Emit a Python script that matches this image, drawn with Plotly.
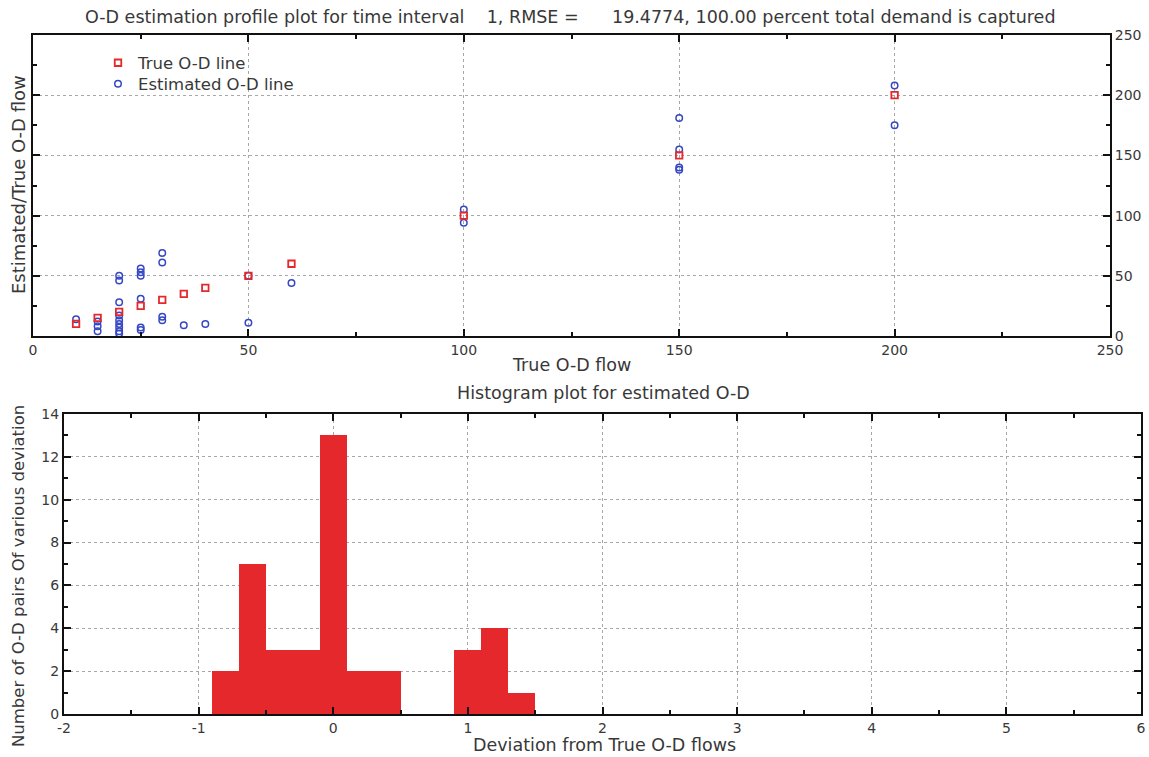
import plotly.graph_objects as go

W, H = 1149, 757

# O-D pairs: true flow and estimated flow
true_flow = [10, 15, 20, 25, 30, 35, 40, 50, 60, 100, 150, 200]
true_line = [10, 15, 20, 25, 30, 35, 40, 50, 60, 100, 150, 200]

est_x = [10,
         15, 15, 15,
         20, 20, 20, 20, 20, 20, 20, 20, 20,
         25, 25, 25, 25, 25, 25,
         30, 30, 30, 30,
         35, 40,
         50, 50,
         60,
         100, 100,
         150, 150, 150, 150,
         200, 200]
est_y = [14,
         12, 8, 4,
         50, 46, 28, 17, 13, 10, 7, 4, 2,
         56, 53, 50, 31, 7, 5,
         69, 61, 16, 13,
         9, 10,
         50, 11,
         44,
         105, 94,
         181, 155, 140, 138,
         208, 175]

# Histogram of deviations (bin width 0.2)
dev_centers = [-0.8, -0.6, -0.4, -0.2, 0.0, 0.2, 0.4, 0.6, 0.8, 1.0, 1.2, 1.4]
dev_counts = [2, 7, 3, 3, 13, 2, 2, 0, 0, 3, 4, 1]

# Tick labels of the histogram axes
dev_ticks = [-2, -1, 0, 1, 2, 3, 4, 5, 6]
dev_tick_labels = ["-2", "-1", "0", "1", "2", "3", "4", "5", "6"]

title_text = ("O-D estimation profile plot for time interval\u00a0\u00a0\u00a0\u00a01, RMSE =\u00a0\u00a0\u00a0\u00a0\u00a0\u00a0"
              "19.4774, 100.00 percent total demand is captured")

FONT = "DejaVu Sans, Verdana, sans-serif"
TXT = "#383838"
RED = "#e4282b"
BLUE = "#3547c4"


def px_x(p):
    return p / W


def px_y(p):
    return 1 - p / H


fig = go.Figure()

fig.add_trace(go.Scatter(
    x=est_x, y=est_y, mode="markers", name="Estimated O-D line", legend="legend2",
    marker=dict(symbol="circle-open", size=6.5, color=BLUE, line=dict(width=1.5)),
    xaxis="x", yaxis="y"))
fig.add_trace(go.Scatter(
    x=true_flow, y=true_line, mode="markers", name="True O-D line", legend="legend",
    marker=dict(symbol="square-open", size=6.5, color=RED, line=dict(width=1.8)),
    xaxis="x", yaxis="y"))

fig.add_trace(go.Bar(
    x=dev_centers, y=dev_counts, width=0.2, showlegend=False,
    marker=dict(color=RED, line=dict(width=0)),
    xaxis="x2", yaxis="y2"))

axis_common = dict(
    showline=True, linecolor="#111111", linewidth=2, mirror="allticks",
    ticks="inside", ticklen=7, tickwidth=1.5, tickcolor="#111111",
    showgrid=True, gridcolor="#a8a8a8", griddash="dot", gridwidth=1,
    zeroline=False, automargin=False,
    tickfont=dict(family=FONT, size=14, color=TXT),
)
minor_common = dict(ticks="inside", ticklen=4, tickcolor="#111111", showgrid=False)

legend_common = dict(xanchor="left", yanchor="middle",
                     bgcolor="rgba(0,0,0,0)", borderwidth=0,
                     font=dict(family=FONT, size=16.5, color=TXT),
                     itemwidth=30, tracegroupgap=0)

fig.update_layout(
    width=W, height=H,
    template="none",
    paper_bgcolor="white", plot_bgcolor="white",
    margin=dict(l=0, r=0, t=0, b=0),
    bargap=0,
    xaxis=dict(axis_common, domain=[px_x(33), px_x(1110)], range=[0, 250],
               dtick=50, tick0=0, anchor="y",
               minor=dict(minor_common, dtick=25)),
    yaxis=dict(axis_common, domain=[px_y(336), px_y(35)], range=[0, 250],
               dtick=50, tick0=0, side="right", anchor="x",
               minor=dict(minor_common, dtick=25)),
    xaxis2=dict(axis_common, domain=[px_x(64), px_x(1141)], range=[-2, 6],
                tickmode="array", tickvals=dev_ticks, ticktext=dev_tick_labels,
                anchor="y2",
                minor=dict(minor_common, dtick=0.5, tick0=0)),
    yaxis2=dict(axis_common, domain=[px_y(714), px_y(414)], range=[0, 14],
                dtick=2, tick0=0, anchor="x2",
                minor=dict(minor_common, dtick=1)),
    legend=dict(legend_common, x=px_x(98), y=px_y(63)),
    legend2=dict(legend_common, x=px_x(98), y=px_y(84)),
    font=dict(family=FONT, color=TXT),
)

annotations = [
    (title_text, 570, 17, 0, 17.5),
    ("True O-D flow", 571, 365, 0, 17.5),
    ("Histogram plot for estimated O-D", 603, 393, 0, 17.5),
    ("Deviation from True O-D flows", 604, 745, 0, 17.5),
    ("Estimated/True O-D flow", 18, 185, -90, 18),
    ("Number of O-D pairs Of various deviation", 18, 576, -90, 16.5),
]
for text, x, y, ang, size in annotations:
    fig.add_annotation(text=text, x=px_x(x), y=px_y(y), xref="paper", yref="paper",
                       xanchor="center", yanchor="middle", showarrow=False,
                       textangle=ang, font=dict(family=FONT, size=size, color=TXT))

fig.write_html("out.html")
